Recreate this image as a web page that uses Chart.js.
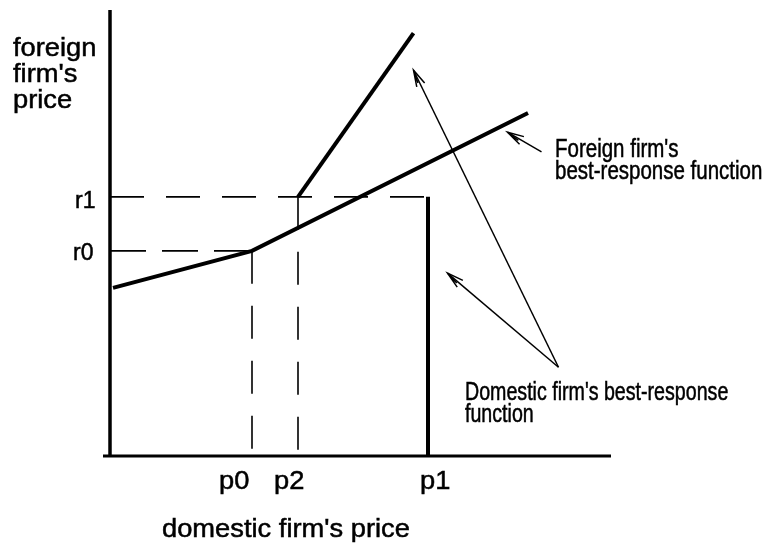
<!DOCTYPE html>
<html><head><meta charset="utf-8">
<script src="https://cdn.jsdelivr.net/npm/chart.js@4"></script>
<style>html,body{margin:0;padding:0;background:#fff}canvas{display:block}</style>
</head><body>
<canvas id="c" width="767" height="546"></canvas>
<script>
// ---- data (in the diagram's own price units) ----
const priceTicks = ['p0', 'p2', 'p1'];
const priceValues = [28.4, 37.6, 63.6];
const rivalTicks = ['r0', 'r1'];
const rivalValues = [46.0, 58.1];
const foreignX = [0.6, 28.4, 83.6];
const foreignY = [37.7, 46.0, 76.9];
const domesticUpperX = [37.6, 60.7];
const domesticUpperY = [58.1, 94.8];
const domesticLowerX = [63.6, 63.6];
const domesticLowerY = [58.1, 0];
const arrowFromX = [86.3, 89.7, 89.7];
const arrowFromY = [68.2, 19.9, 19.9];
const arrowToX = [79.5, 60.7, 67.5];
const arrowToY = [72.6, 86.5, 41.0];
const axisXExtent = [-1.4, 100.2];
const axisYExtent = [0, 100];
const yTitle = ['foreign', "firm's", 'price'];
const xTitle = "domestic firm's price";
const foreignNote = ["Foreign firm's", 'best-response function'];
const domesticNote = ["Domestic firm's best-response", 'function'];

const pts = (xs, ys) => xs.map((x, i) => ({x, y: ys[i]}));
const base = {showLine: true, pointRadius: 0, borderColor: '#000', backgroundColor: '#000',
  fill: false, tension: 0, clip: false, borderCapStyle: 'butt', borderJoinStyle: 'miter'};

const datasets = [
  {...base, data: pts([0, 0], axisYExtent), borderWidth: 3.5},
  {...base, data: pts(axisXExtent, [0, 0]), borderWidth: 3},
  {...base, data: pts(foreignX, foreignY), borderWidth: 4},
  {...base, data: pts(domesticUpperX, domesticUpperY), borderWidth: 4},
  {...base, data: pts(domesticLowerX, domesticLowerY), borderWidth: 4},
  {...base, data: pts([0, priceValues[0]], [rivalValues[0], rivalValues[0]]), borderWidth: 1.6, borderDash: [36, 16]},
  {...base, data: pts([priceValues[0], priceValues[0]], [rivalValues[0], 0]), borderWidth: 1.6, borderDash: [33, 22]},
  {...base, data: pts([0, priceValues[2]], [rivalValues[1], rivalValues[1]]), borderWidth: 1.6, borderDash: [34, 22]},
  {...base, data: pts([priceValues[1], priceValues[1]], [rivalValues[1], 0]), borderWidth: 1.6, borderDash: [33, 22]},
];
arrowFromX.forEach((fx, i) => {
  datasets.push({...base, data: pts([fx, arrowToX[i]], [arrowFromY[i], arrowToY[i]]), borderWidth: 1.5});
});

function drawText(ctx, text, x, y, size, sx) {
  ctx.save();
  ctx.translate(x, y);
  ctx.scale(sx, 1);
  ctx.font = size + 'px "Liberation Sans", Arial, sans-serif';
  ctx.fillStyle = '#000';
  ctx.strokeStyle = '#000';
  ctx.lineWidth = 0.5;
  ctx.textAlign = 'left';
  ctx.textBaseline = 'alphabetic';
  ctx.fillText(text, 0, 0);
  ctx.strokeText(text, 0, 0);
  ctx.restore();
}

const notes = {
  id: 'notes',
  afterDatasetsDraw(chart) {
    const ctx = chart.ctx, xs = chart.scales.x, ys = chart.scales.y;
    // arrow heads
    ctx.save();
    ctx.strokeStyle = '#000';
    ctx.lineWidth = 1.5;
    arrowToX.forEach((tx, i) => {
      const x1 = xs.getPixelForValue(arrowFromX[i]), y1 = ys.getPixelForValue(arrowFromY[i]);
      const x2 = xs.getPixelForValue(tx), y2 = ys.getPixelForValue(arrowToY[i]);
      const a = Math.atan2(y1 - y2, x1 - x2);
      const L = 17, h = 0.26;
      ctx.beginPath();
      ctx.moveTo(x2 + L * Math.cos(a + h), y2 + L * Math.sin(a + h));
      ctx.lineTo(x2, y2);
      ctx.lineTo(x2 + L * Math.cos(a - h), y2 + L * Math.sin(a - h));
      ctx.moveTo(x2 + 0.8 * L * Math.cos(a + h * 0.45), y2 + 0.8 * L * Math.sin(a + h * 0.45));
      ctx.lineTo(x2, y2);
      ctx.stroke();
    });
    ctx.restore();
    // axis-title text
    drawText(ctx, yTitle[0], 13, 56, 26, 1.05);
    drawText(ctx, yTitle[1], 13, 82, 26, 1.05);
    drawText(ctx, yTitle[2], 13, 108, 26, 1.05);
    drawText(ctx, xTitle, 162, 537, 26, 1.05);
    // rival price tick labels
    const rPos = [[73, 260], [75, 208]];
    rivalTicks.forEach((t, i) => drawText(ctx, t, rPos[i][0], rPos[i][1], 23, 1));
    const pPos = [[219, 489], [274, 489], [420, 489]];
    priceTicks.forEach((t, i) => drawText(ctx, t, pPos[i][0], pPos[i][1], 26, 1.05));
    // notes
    drawText(ctx, foreignNote[0], 555, 157, 25, 0.82);
    drawText(ctx, foreignNote[1], 555, 179, 25, 0.82);
    drawText(ctx, domesticNote[0], 465, 400, 25, 0.785);
    drawText(ctx, domesticNote[1], 465, 422, 25, 0.785);
  }
};

new Chart(document.getElementById('c'), {
  type: 'scatter',
  data: {datasets},
  options: {
    responsive: false,
    animation: false,
    devicePixelRatio: 1,
    layout: {padding: {left: 110, right: 157, top: 10, bottom: 90}},
    scales: {
      x: {type: 'linear', min: 0, max: 100, display: false},
      y: {type: 'linear', min: 0, max: 100, display: false}
    },
    plugins: {legend: {display: false}, tooltip: {enabled: false}},
    events: []
  },
  plugins: [notes]
});
</script>
</body></html>
